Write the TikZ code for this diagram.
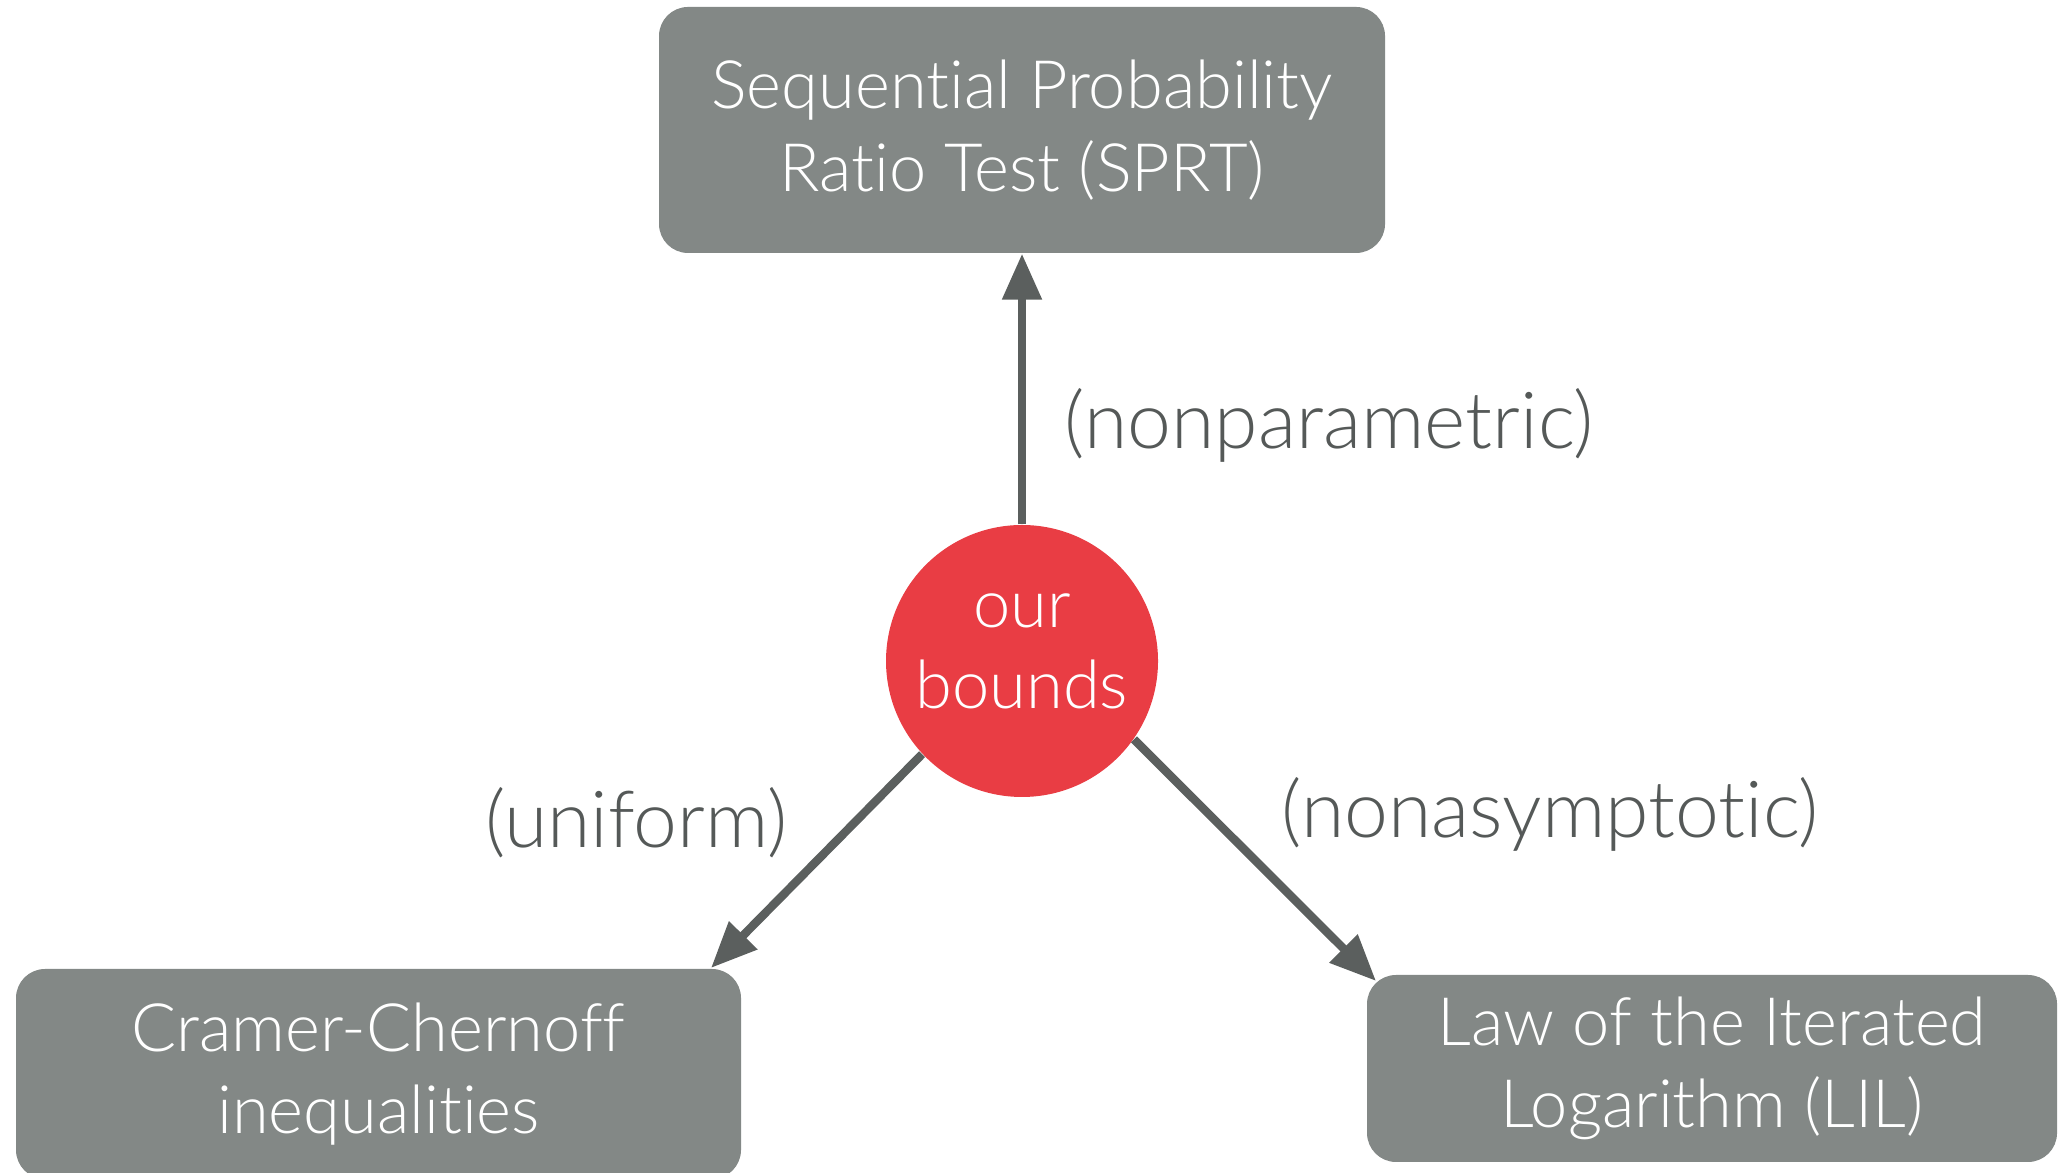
\documentclass[tikz,border=0pt]{standalone}
\usepackage{fontspec}
\setmainfont{Lato}[UprightFont={* Light}, Ligatures=NoCommon]
\usetikzlibrary{arrows.meta}
\definecolor{boxgray}{RGB}{131,136,134}
\definecolor{boundsred}{RGB}{233,61,68}
\definecolor{arrowgray}{RGB}{91,95,94}
\definecolor{labelgray}{RGB}{85,89,88}

\begin{document}
\begin{tikzpicture}[
  topic/.style = {fill=boxgray, rounded corners=0.29cm, text=white, align=center,
                  inner sep=0pt, font=\fontsize{19}{23.5}\selectfont},
  ours/.style  = {circle, fill=boundsred, text=white, align=center, inner sep=0pt,
                  minimum size=2.72cm, text depth=0.2cm, font=\fontsize{19}{23}\selectfont},
  link/.style  = {draw=arrowgray, line width=2.4pt, -{Triangle[length=0.46cm,width=0.38cm]}},
  why/.style   = {text=labelgray, inner sep=0pt, font=\fontsize{22.4}{27}\selectfont}
]
\useasboundingbox (0,0) rectangle (20.65,11.73);
\node[ours] (bounds) at (10.22,5.12) {our\\bounds};
\node[topic, minimum width=7.26cm, minimum height=2.46cm] (sprt) at (10.22,10.43)
  {Sequential Probability\\Ratio Test (SPRT)};
\node[topic, minimum width=7.25cm, minimum height=2.1cm] (cc) at (3.785,0.99)
  {Cramer-Chernoff\\inequalities};
\node[topic, minimum width=6.90cm, minimum height=1.87cm] (lil) at (17.12,1.045)
  {Law of the Iterated\\Logarithm (LIL)};
\coordinate (tipL) at (7.11,2.05);
\coordinate (tipR) at (13.76,1.92);
% arrows out of our bounds
\draw[link] (bounds.north) -- (sprt.south);
\draw[link] (bounds.-137) -- (tipL);
\draw[link] (bounds.-35) -- (tipR);
% labels
\node[why, anchor=west] (np) at (10.64,7.48) {(nonparametric)};
\node[why, anchor=east] (un) at (7.88,3.50) {(uniform)};
\node[why, anchor=west] (na) at (12.81,3.59) {(nonasymptotic)};
\end{tikzpicture}
\end{document}
